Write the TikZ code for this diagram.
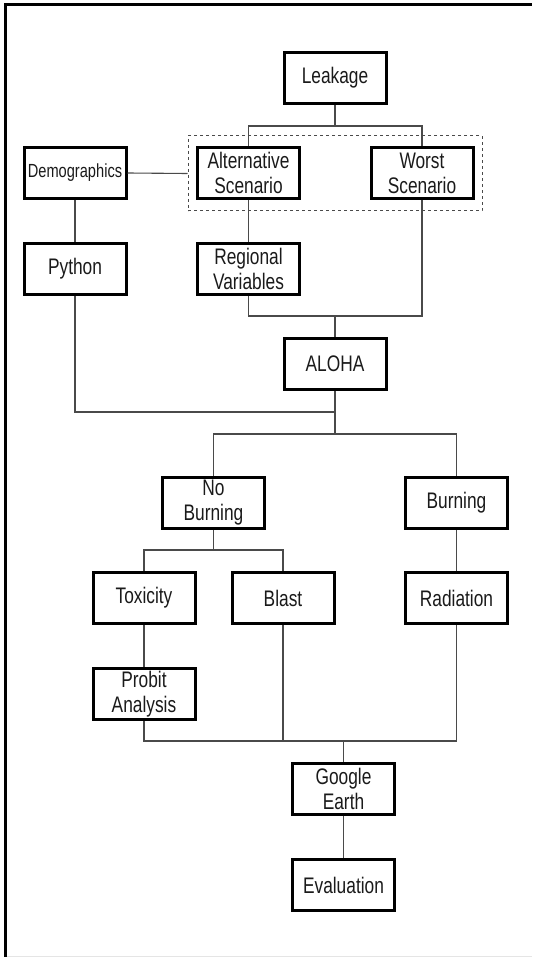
\documentclass[tikz,border=0pt]{standalone}
\usepackage{fontspec}
\setmainfont{Liberation Sans}[FakeStretch=0.77]
\definecolor{linegray}{HTML}{4A4A4A}
\definecolor{txtgray}{HTML}{1A1A1A}
\begin{document}
\begin{tikzpicture}[x=1pt,y=-1pt,
  box/.style={draw=black,line width=3pt,minimum width=102pt,minimum height=51pt,inner sep=0pt,
    align=center,text=txtgray,font=\fontsize{22.5}{25}\selectfont},
  conn/.style={draw=linegray,line width=1.1pt}]
\useasboundingbox (0,0) rectangle (532,957);
% frame
\draw[line width=3pt] (5.5,957) -- (5.5,5) -- (532,5);
\draw[line width=1pt,black!10] (7,956) -- (532,956);
% nodes
\node[box] (leak) at (335,78) {Leakage};
\node[box,font=\fontsize{19}{21}\selectfont] (demo) at (75,173) {Demographics};
\node[box] (alt) at (248.5,173) {Alternative\\Scenario};
\node[box] (worst) at (422,173) {Worst\\Scenario};
\node[draw=linegray,dashed,line width=1pt,minimum width=294pt,minimum height=75pt] (grp) at (335,173.5) {};
\node[box] (py) at (75,269) {Python};
\node[box] (reg) at (248.5,269) {Regional\\Variables};
\node[box] (aloha) at (335,364) {ALOHA};
\node[box] (nob) at (213.5,503) {No\\Burning};
\node[box] (burn) at (456.5,503) {Burning};
\node[box] (tox) at (144,598) {Toxicity};
\node[box] (blast) at (283,598) {Blast};
\node[box] (rad) at (456.5,598) {Radiation};
\node[box] (prob) at (144,694) {Probit\\Analysis};
\node[box] (ge) at (343.5,789) {Google\\Earth};
\node[box] (ev) at (343.5,885) {Evaluation};
% junctions
\coordinate (b1) at (335,126);
\coordinate (b2) at (335,316);
\coordinate (b3) at (335,412);
\coordinate (b4) at (335,434);
\coordinate (b5) at (213.5,550);
\coordinate (b6) at (343.5,741);
% connectors
\draw[conn] (leak.south) -- (b1);
\draw[conn] (alt.north) |- (b1) -| (worst.north);
\draw[conn] (demo.east) -- (grp.west);
\draw[conn] (demo.south) -- (py.north);
\draw[conn] (alt.south) -- (reg.north);
\draw[conn] (reg.south) |- (b2) -| (worst.south);
\draw[conn] (b2) -- (aloha.north);
\draw[conn] (py.south) |- (b3);
\draw[conn] (aloha.south) -- (b4);
\draw[conn] (nob.north) |- (b4) -| (burn.north);
\draw[conn] (nob.south) -- (b5);
\draw[conn] (tox.north) |- (b5) -| (blast.north);
\draw[conn] (burn.south) -- (rad.north);
\draw[conn] (tox.south) -- (prob.north);
\draw[conn] (prob.south) |- (b6) -| (rad.south);
\draw[conn] (blast.south) -- (blast.south |- b6);
\draw[conn] (b6) -- (ge.north);
\draw[conn] (ge.south) -- (ev.north);
\end{tikzpicture}
\end{document}
